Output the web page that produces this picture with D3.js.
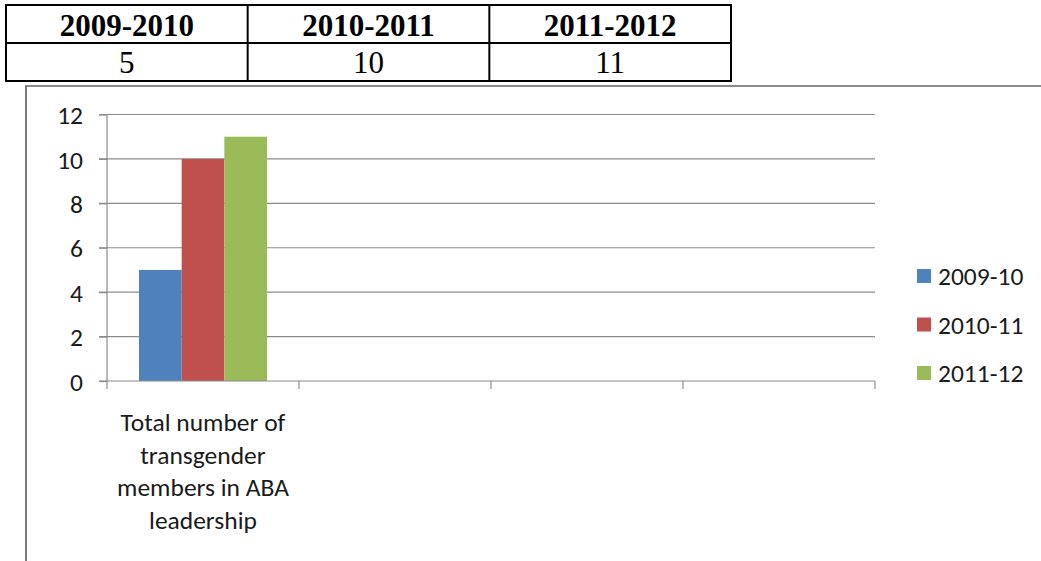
<!DOCTYPE html>
<html><head><meta charset="utf-8">
<script src="https://cdn.jsdelivr.net/npm/d3@7"></script>
<style>html,body{margin:0;padding:0;background:#fff;overflow:hidden}</style>
</head><body>
<svg id="c" width="1041" height="561"></svg>
<script>
const tableHeaders = ["2009-2010", "2010-2011", "2011-2012"];
const tableValues = [5, 10, 11];
const categories = ["Total number of transgender members in ABA leadership", "", "", ""];
const categoryLines = [["Total number of", "transgender", "members in ABA", "leadership"], [], [], []];
const seriesNames = ["2009-10", "2010-11", "2011-12"];
const series2009 = [5];
const series2010 = [10];
const series2011 = [11];
const seriesColors = ["#4F81BD", "#C0504D", "#9BBB59"];
const yTicks = [0, 2, 4, 6, 8, 10, 12];

const svg = d3.select("#c");
const calibri = "Carlito, Calibri, 'Open Sans', sans-serif";
const fs = 25.5;

// ---- table ----
const tX = d3.scaleBand().domain(tableHeaders).range([6, 731]);
const tRows = [5, 43, 81];
const tg = svg.append("g");
tg.append("rect").attr("x", 6).attr("y", tRows[0]).attr("width", 725).attr("height", tRows[2] - tRows[0])
  .attr("fill", "none").attr("stroke", "#000").attr("stroke-width", 2);
tg.append("line").attr("x1", 6).attr("x2", 731).attr("y1", tRows[1]).attr("y2", tRows[1]).attr("stroke", "#000").attr("stroke-width", 2);
tableHeaders.slice(1).forEach(h => tg.append("line").attr("x1", tX(h)).attr("x2", tX(h)).attr("y1", tRows[0]).attr("y2", tRows[2]).attr("stroke", "#000").attr("stroke-width", 2));
tg.selectAll("text.h").data(tableHeaders).join("text").attr("class", "h")
  .attr("x", d => tX(d) + tX.bandwidth() / 2).attr("y", 36)
  .attr("text-anchor", "middle").attr("font-family", "'Liberation Serif', 'Times New Roman', serif")
  .attr("font-weight", "bold").attr("font-size", 31).text(d => d);
tg.selectAll("text.v").data(tableValues).join("text").attr("class", "v")
  .attr("x", (d, i) => tX(tableHeaders[i]) + tX.bandwidth() / 2).attr("y", 73)
  .attr("text-anchor", "middle").attr("font-family", "'Liberation Serif', 'Times New Roman', serif")
  .attr("font-size", 31).text(d => d);

// ---- chart frame ----
svg.append("line").attr("x1", 25).attr("x2", 1041).attr("y1", 86).attr("y2", 86).attr("stroke", "#8a8a8a").attr("stroke-width", 2);
svg.append("line").attr("x1", 26).attr("x2", 26).attr("y1", 86).attr("y2", 561).attr("stroke", "#7a7a7a").attr("stroke-width", 2);

// ---- chart ----
const x = d3.scaleBand().domain(d3.range(categories.length)).range([107, 875]).paddingInner(0).paddingOuter(0);
const y = d3.scaleLinear().domain([0, 12]).range([381, 114.5]);
const xs = d3.scaleBand().domain(seriesNames).range([0, x.bandwidth()]).paddingOuter(0.75).paddingInner(0);

const grid = svg.append("g");
grid.selectAll("line").data(yTicks.filter(t => t > 0)).join("line")
  .attr("x1", 99).attr("x2", 875).attr("y1", d => y(d)).attr("y2", d => y(d))
  .attr("stroke", "#8c8c8c").attr("stroke-width", 1.2);

const allSeries = [series2009, series2010, series2011];
const bars = svg.append("g");
categories.forEach((c, ci) => {
  allSeries.forEach((s, si) => {
    if (s[ci] === undefined) return;
    bars.append("rect")
      .attr("x", x(ci) + xs(seriesNames[si])).attr("width", xs.bandwidth())
      .attr("y", y(s[ci])).attr("height", y(0) - y(s[ci]))
      .attr("fill", seriesColors[si]);
  });
});

// y axis
const yAxis = d3.axisLeft(y).tickValues(yTicks).tickSize(8).tickPadding(16).tickFormat(d3.format("d"));
const ya = svg.append("g").attr("transform", "translate(107,0)").call(yAxis);
ya.select(".domain").attr("stroke", "#8c8c8c").attr("stroke-width", 1.2).attr("d", `M0,${y(12)}V${y(0)}`);
ya.selectAll(".tick line").attr("stroke", "#8c8c8c").attr("stroke-width", 1.2);
ya.selectAll(".tick text").attr("font-family", calibri).attr("font-size", fs).attr("fill", "#1a1a1a").attr("dy", "0.36em");

// x axis
const xTickPos = d3.range(categories.length + 1).map(i => 107 + i * x.step());
svg.append("line").attr("x1", 99).attr("x2", 875).attr("y1", y(0)).attr("y2", y(0)).attr("stroke", "#8c8c8c").attr("stroke-width", 1.2);
svg.append("g").selectAll("line").data(xTickPos).join("line")
  .attr("x1", d => d).attr("x2", d => d).attr("y1", y(0)).attr("y2", y(0) + 8)
  .attr("stroke", "#8c8c8c").attr("stroke-width", 1.2);

// category labels
categoryLines.forEach((lines, ci) => {
  const t = svg.append("text").attr("text-anchor", "middle").attr("font-family", calibri)
    .attr("font-size", fs).attr("fill", "#1a1a1a");
  lines.forEach((l, li) => t.append("tspan").attr("x", x(ci) + x.bandwidth() / 2).attr("y", 431 + li * 32.5).text(l));
});

// legend
const lg = svg.append("g");
seriesNames.forEach((n, i) => {
  const cy = 276 + i * 48.5;
  lg.append("rect").attr("x", 917).attr("y", cy - 7).attr("width", 14).attr("height", 14).attr("fill", seriesColors[i]);
  lg.append("text").attr("x", 938).attr("y", cy).attr("dy", "0.36em").attr("font-family", calibri)
    .attr("font-size", fs).attr("fill", "#1a1a1a").text(n);
});
</script>
</body></html>
